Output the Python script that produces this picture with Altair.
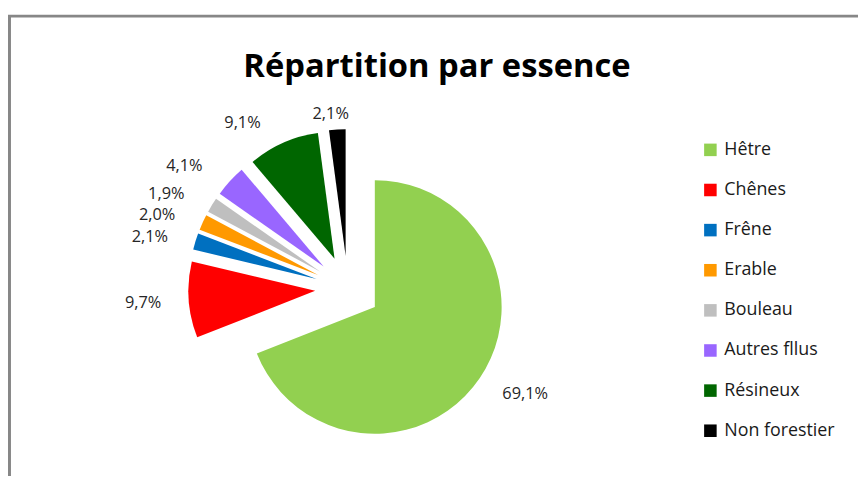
import altair as alt
import pandas as pd

# ---- data ----
categories = ["Hêtre", "Chênes", "Frêne", "Erable", "Bouleau", "Autres fllus", "Résineux", "Non forestier"]
values = [69.1, 9.7, 2.1, 2.0, 1.9, 4.1, 9.1, 2.1]
colors = ["#92D050", "#FF0000", "#0070C0", "#FF9900", "#BFBFBF", "#9966FF", "#006600", "#000000"]
title_text = "Répartition par essence"

df = pd.DataFrame({"cat": categories, "value": values, "order": list(range(len(categories)))})

# ---- layout constants (view pixels) ----
W, H = 858, 468
CX, CY = 343, 281      # pie centre
R = 128                # pie radius
D = 33                 # explosion distance
LAB_A, LAB_B = 46, 16  # label offset outside slice edge
FONT = "Open Sans"

base = (
    alt.Chart(df)
    .transform_joinaggregate(total="sum(value)")
    .transform_window(cum="sum(value)", sort=[alt.SortField("order", order="ascending")], frame=[None, 0])
    .transform_calculate(t1="datum.cum / datum.total * 2 * PI")
    .transform_calculate(t0="(datum.cum - datum.value) / datum.total * 2 * PI")
    .transform_calculate(mid="(datum.t0 + datum.t1) / 2")
    .transform_calculate(px=f"{CX} + {D} * sin(datum.mid)")
    .transform_calculate(py=f"{CY} - {D} * cos(datum.mid)")
    .transform_calculate(ex=f"{CX} + {D + R} * sin(datum.mid)")
    .transform_calculate(ey=f"{CY} - {D + R} * cos(datum.mid)")
    .transform_calculate(lx=f"datum.ex + {LAB_A} * clamp(sin(datum.mid) * 2.2, -1, 1)")
    .transform_calculate(
        ly=f"datum.ey - {LAB_B} * cos(datum.mid) + 2 + 20 * sin(datum.mid) * cos(datum.mid) * cos(datum.mid)"
    )
    .transform_calculate(lab="replace(format(datum.value, '.1f'), '.', ',') + '%'")
)

arcs = base.mark_arc(radius=R).encode(
    x=alt.X("px:Q", scale=None, axis=None),
    y=alt.Y("py:Q", scale=None, axis=None),
    theta=alt.Theta("t0:Q", scale=None, stack=None),
    theta2=alt.Theta2("t1:Q"),
    color=alt.Color(
        "cat:N",
        sort=categories,
        scale=alt.Scale(domain=categories, range=colors),
        legend=alt.Legend(
            title=None,
            orient="none",
            legendX=700,
            legendY=132,
            symbolType="square",
            symbolSize=160,
            symbolStrokeWidth=0,
            symbolOpacity=1,
            labelFont=FONT,
            labelFontSize=18,
            labelColor="#1a1a1a",
            rowPadding=22.5,
            labelOffset=5,
            padding=0,
        ),
    ),
)

labels = base.mark_text(font=FONT, fontSize=16.5, color="#262626", align="center", baseline="middle").encode(
    x=alt.X("lx:Q", scale=None, axis=None),
    y=alt.Y("ly:Q", scale=None, axis=None),
    text="lab:N",
)

one = alt.Data(values=[{"t": title_text}])
title = alt.Chart(one).mark_text(
    font=FONT, fontSize=33, fontWeight="bold", color="#000000", align="center", baseline="alphabetic"
).encode(x=alt.value(433), y=alt.value(67), text="t:N")

frame = alt.Chart(alt.Data(values=[{"a": 1}])).mark_rect(
    filled=False, stroke="#878787", strokeWidth=3
).encode(x=alt.value(1.5), x2=alt.value(W + 20), y=alt.value(6), y2=alt.value(H + 20))

chart = (
    alt.layer(frame, arcs, labels, title)
    .properties(width=W, height=H, padding=0, autosize=alt.AutoSizeParams(type="none"), background="white")
    .configure_view(stroke=None)
)

chart.save("out.html", embed_options={"renderer": "svg", "actions": False})
